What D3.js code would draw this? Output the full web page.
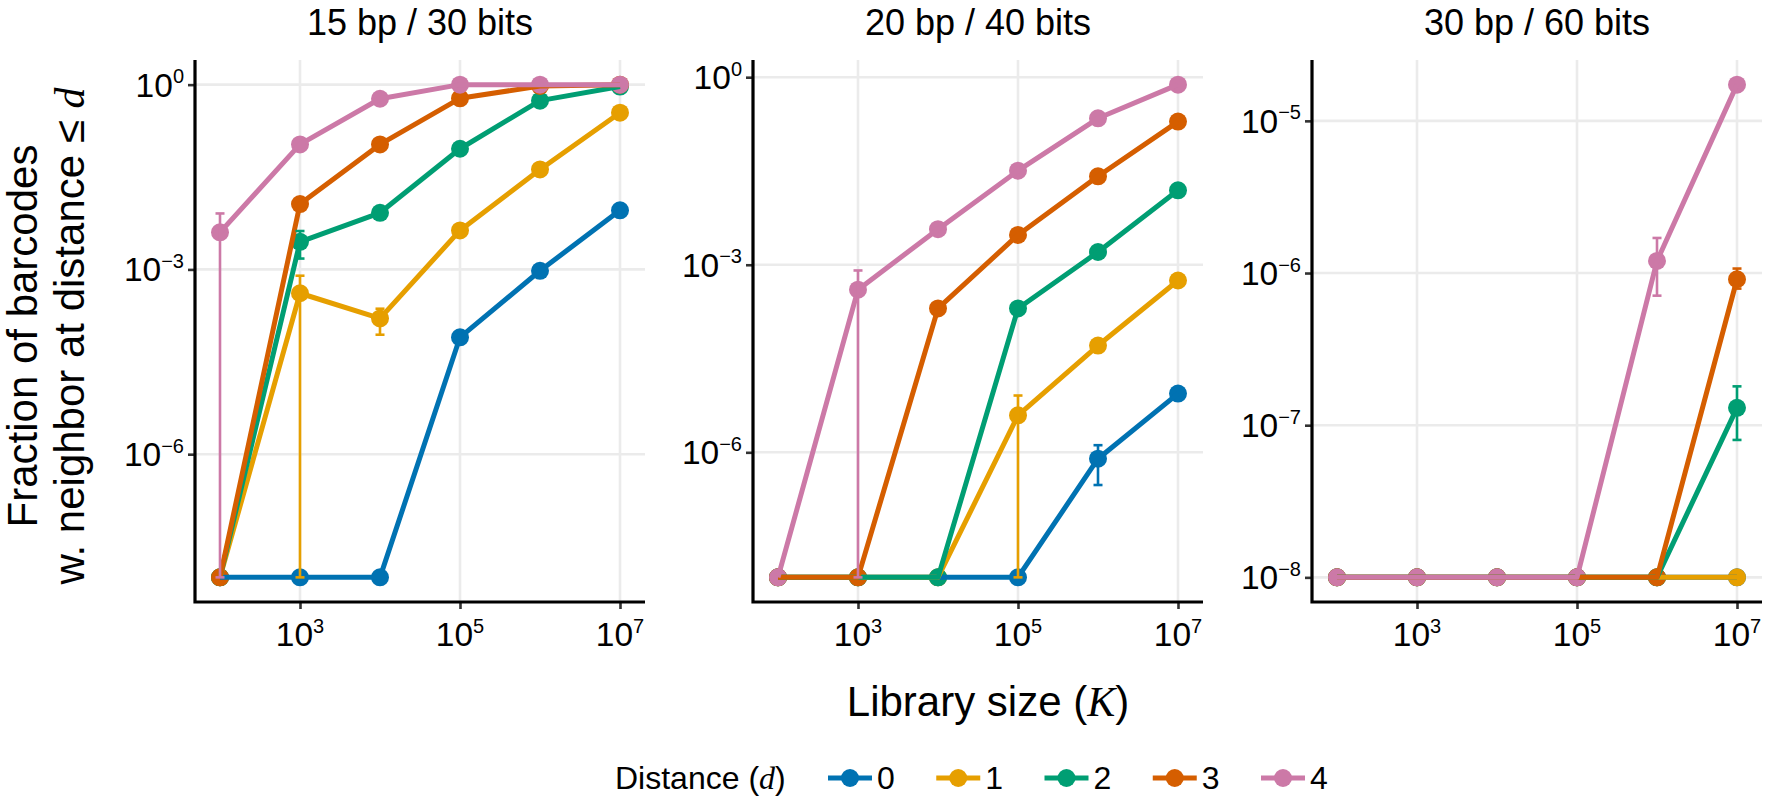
<!DOCTYPE html>
<html><head><meta charset="utf-8">
<script src="https://cdn.jsdelivr.net/npm/d3@7"></script>
<style>
html,body{margin:0;padding:0;background:#fff;}
svg{display:block;font-family:"Liberation Sans",Arial,Helvetica,sans-serif;}
</style></head>
<body>
<svg id="chart" width="1766" height="798"></svg>
<script>
// ---------------- data ----------------
const panelTitles = ["15 bp / 30 bits", "20 bp / 40 bits", "30 bp / 60 bits"];
const librarySizes = [1e2, 1e3, 1e4, 1e5, 1e6, 1e7];
const distances = [0, 1, 2, 3, 4];
const seriesColors = ["#0072B2", "#E69F00", "#009E73", "#D55E00", "#CC79A7"];
const xTickValues = [1e3, 1e5, 1e7];
const yTickValues = [[1e0, 1e-3, 1e-6], [1e0, 1e-3, 1e-6], [1e-5, 1e-6, 1e-7, 1e-8]];

// fraction of barcodes (zero counts shown at the 1e-8 floor)
const p15_d0 = [1e-8, 1e-8, 1e-8, 7.9e-5, 9.5e-4, 9.1e-3];
const p15_d1 = [1e-8, 4.1e-4, 1.6e-4, 4.3e-3, 4.2e-2, 0.35];
const p15_d2 = [1e-8, 2.8e-3, 8.3e-3, 9.1e-2, 0.55, 0.93];
const p15_d3 = [1e-8, 1.15e-2, 0.107, 0.60, 0.95, 1.0];
const p15_d4 = [4.0e-3, 0.107, 0.59, 1.0, 1.0, 1.0];

const p20_d0 = [1e-8, 1e-8, 1e-8, 1e-8, 7.9e-7, 8.7e-6];
const p20_d1 = [1e-8, 1e-8, 1e-8, 3.9e-6, 5.1e-5, 5.6e-4];
const p20_d2 = [1e-8, 1e-8, 1e-8, 2.0e-4, 1.6e-3, 1.55e-2];
const p20_d3 = [1e-8, 1e-8, 2.0e-4, 3.0e-3, 2.6e-2, 0.195];
const p20_d4 = [1e-8, 4.0e-4, 3.7e-3, 3.2e-2, 0.22, 0.76];

const p30_d0 = [1e-8, 1e-8, 1e-8, 1e-8, 1e-8, 1e-8];
const p30_d1 = [1e-8, 1e-8, 1e-8, 1e-8, 1e-8, 1e-8];
const p30_d2 = [1e-8, 1e-8, 1e-8, 1e-8, 1e-8, 1.3e-7];
const p30_d3 = [1e-8, 1e-8, 1e-8, 1e-8, 1e-8, 9.1e-7];
const p30_d4 = [1e-8, 1e-8, 1e-8, 1e-8, 1.2e-6, 1.73e-5];

// visible error bars: [panel, distance, librarySize, lower, upper]
const errorBars = [
  [0, 4, 1e2, 1e-8, 8.1e-3],
  [0, 2, 1e3, 1.5e-3, 4.2e-3],
  [0, 1, 1e3, 1e-8, 7.9e-4],
  [0, 1, 1e4, 8.7e-5, 2.3e-4],
  [1, 4, 1e3, 1e-8, 8.1e-4],
  [1, 3, 1e4, 1.75e-4, 2.1e-4],
  [1, 1, 1e5, 1e-8, 8.1e-6],
  [1, 0, 1e6, 3.0e-7, 1.3e-6],
  [2, 4, 1e6, 7.1e-7, 1.7e-6],
  [2, 3, 1e7, 7.9e-7, 1.07e-6],
  [2, 2, 1e7, 8.0e-8, 1.8e-7]
];

const panelSeries = [
  [p15_d0, p15_d1, p15_d2, p15_d3, p15_d4],
  [p20_d0, p20_d1, p20_d2, p20_d3, p20_d4],
  [p30_d0, p30_d1, p30_d2, p30_d3, p30_d4]
];

// ---------------- layout ----------------
const svg = d3.select("#chart");
const panelLeft = [195, 753, 1312];
const panelW = 450, plotTop = 60, plotBottom = 602;
const xExpand = 0.3125;
const MATH = '"Liberation Serif","DejaVu Serif",serif';

function supLabel(sel, v, sfs, dy) {
  const e = Math.round(Math.log10(v));
  sel.text("10");
  sel.append("tspan").attr("dy", dy).attr("font-size", sfs)
     .text(e < 0 ? "\u2212" + Math.abs(e) : String(e));
}

panelSeries.forEach((series, pi) => {
  const x0 = panelLeft[pi];
  const x = d3.scaleLog()
    .domain([Math.pow(10, 2 - xExpand), Math.pow(10, 7 + xExpand)])
    .range([x0, x0 + panelW]);
  const allVals = series.flat().concat(errorBars.filter(e => e[0] === pi).flatMap(e => [e[3], e[4]]));
  const lmin = Math.log10(d3.min(allVals)), lmax = Math.log10(d3.max(allVals));
  const pad = (lmax - lmin) * 0.05;
  const y = d3.scaleLog()
    .domain([Math.pow(10, lmin - pad), Math.pow(10, lmax + pad)])
    .range([plotBottom, plotTop]);

  const g = svg.append("g");
  // grid
  g.selectAll("line.gx").data(xTickValues).join("line")
    .attr("x1", d => x(d)).attr("x2", d => x(d)).attr("y1", plotTop).attr("y2", plotBottom)
    .attr("stroke", "#ebebeb").attr("stroke-width", 2.6);
  g.selectAll("line.gy").data(yTickValues[pi]).join("line")
    .attr("x1", x0).attr("x2", x0 + panelW).attr("y1", d => y(d)).attr("y2", d => y(d))
    .attr("stroke", "#ebebeb").attr("stroke-width", 2.6);

  // axes
  const xAxis = d3.axisBottom(x).tickValues(xTickValues).tickSize(7).tickFormat("");
  const yAxis = d3.axisLeft(y).tickValues(yTickValues[pi]).tickSize(7).tickFormat("");
  const gx = g.append("g").attr("transform", `translate(0,${plotBottom})`).call(xAxis);
  const gy = g.append("g").attr("transform", `translate(${x0},0)`).call(yAxis);
  [gx, gy].forEach(a => {
    a.select(".domain").remove();
    a.selectAll(".tick line").attr("stroke", "#333").attr("stroke-width", 2.6);
  });
  g.append("path")
    .attr("d", `M${x0},${plotTop}V${plotBottom}H${x0 + panelW}`)
    .attr("fill", "none").attr("stroke", "#000").attr("stroke-width", 3.2);

  // tick labels
  xTickValues.forEach(v => {
    g.append("text").attr("x", x(v)).attr("y", 646).attr("text-anchor", "middle")
      .attr("font-size", 33.5).attr("fill", "#000")
      .call(s => supLabel(s, v, 20, -13.5));
  });
  yTickValues[pi].forEach(v => {
    g.append("text").attr("x", x0 - 11).attr("y", y(v) + 12).attr("text-anchor", "end")
      .attr("font-size", 33.5).attr("fill", "#000")
      .call(s => supLabel(s, v, 20, -13.5));
  });

  // title
  g.append("text").attr("x", x0 + panelW / 2).attr("y", 35).attr("text-anchor", "middle")
    .attr("font-size", 36).attr("fill", "#000").text(panelTitles[pi]);

  // points
  series.forEach((vals, di) => {
    g.selectAll(null).data(vals.map((v, i) => [librarySizes[i], v])).join("circle")
      .attr("cx", d => x(d[0])).attr("cy", d => y(d[1])).attr("r", 9)
      .attr("fill", seriesColors[di]);
  });
  // lines
  const line = d3.line().x(d => x(d[0])).y(d => y(d[1]));
  series.forEach((vals, di) => {
    g.append("path").datum(vals.map((v, i) => [librarySizes[i], v]))
      .attr("d", line).attr("fill", "none").attr("stroke", seriesColors[di])
      .attr("stroke-width", 5).attr("stroke-linejoin", "round");
  });
  // error bars
  errorBars.filter(e => e[0] === pi).forEach(e => {
    const cx = x(e[2]), c = seriesColors[e[1]];
    const eg = g.append("g").attr("stroke", c).attr("stroke-width", 2.6).attr("fill", "none");
    eg.append("line").attr("x1", cx).attr("x2", cx).attr("y1", y(e[3])).attr("y2", y(e[4]));
    eg.append("line").attr("x1", cx - 4.5).attr("x2", cx + 4.5).attr("y1", y(e[4])).attr("y2", y(e[4]));
    eg.append("line").attr("x1", cx - 4.5).attr("x2", cx + 4.5).attr("y1", y(e[3])).attr("y2", y(e[3]));
  });
});

// y axis title
const yt = svg.append("text").attr("transform", "translate(0,336) rotate(-90)")
  .attr("text-anchor", "middle").attr("font-size", 42).attr("fill", "#000");
yt.append("tspan").attr("x", 0).attr("y", 37).text("Fraction of barcodes");
const yt2 = yt.append("tspan").attr("x", 0).attr("y", 84);
yt2.append("tspan").text("w. neighbor at distance \u2264 ");
yt2.append("tspan").attr("font-family", MATH).attr("font-style", "italic").text("d");

// x axis title
const xt = svg.append("text").attr("x", 988).attr("y", 716).attr("text-anchor", "middle")
  .attr("font-size", 42).attr("fill", "#000");
xt.append("tspan").text("Library size (");
xt.append("tspan").attr("font-family", MATH).attr("font-style", "italic").text("K");
xt.append("tspan").text(")");

// legend
const lg = svg.append("g");
const lt = lg.append("text").attr("x", 615).attr("y", 789).attr("font-size", 32).attr("fill", "#000");
lt.append("tspan").text("Distance (");
lt.append("tspan").attr("font-family", MATH).attr("font-style", "italic").text("d");
lt.append("tspan").text(")");
const keyX = d3.scalePoint().domain(distances).range([850, 1283]);
distances.forEach((d, i) => {
  const cx = keyX(d);
  lg.append("line").attr("x1", cx - 22).attr("x2", cx + 22).attr("y1", 778).attr("y2", 778)
    .attr("stroke", seriesColors[i]).attr("stroke-width", 5);
  lg.append("circle").attr("cx", cx).attr("cy", 778).attr("r", 9).attr("fill", seriesColors[i]);
  lg.append("text").attr("x", cx + 27).attr("y", 789).attr("font-size", 32).attr("fill", "#000").text(d);
});
</script>
</body></html>
